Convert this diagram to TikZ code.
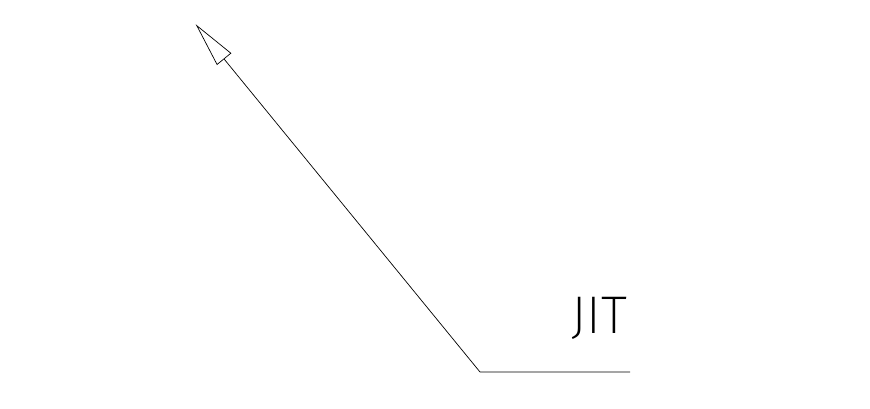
\documentclass[tikz,border=0pt]{standalone}
\usepackage{fontspec}
\setmainfont{Liberation Sans}
\newfontfamily\thinfont{Fira Sans ExtraLight}
\usetikzlibrary{arrows.meta,positioning}

\begin{document}
\begin{tikzpicture}[
      x=1pt, y=-1pt,
      leader_line/.style={
        -{Triangle[open,length=45pt,width=18.5pt]},
        line width=0.7pt,
        draw=black,
        },
      tag_text/.style={
        inner sep=0pt,
        anchor=base west,
        font=\thinfont\fontsize{53}{53}\selectfont}
]
      \useasboundingbox (0,0) rectangle (870,409);
      %leader
      \coordinate (tip) at (195.7,24.3);
      \coordinate (bend) at (480,372);
      \coordinate (tail) at (630,372);

      \node[tag_text] (jit) at (571,333) {JIT};

      \draw [leader_line] (tail) -- (bend) -- (tip);
\end{tikzpicture}
\end{document}
